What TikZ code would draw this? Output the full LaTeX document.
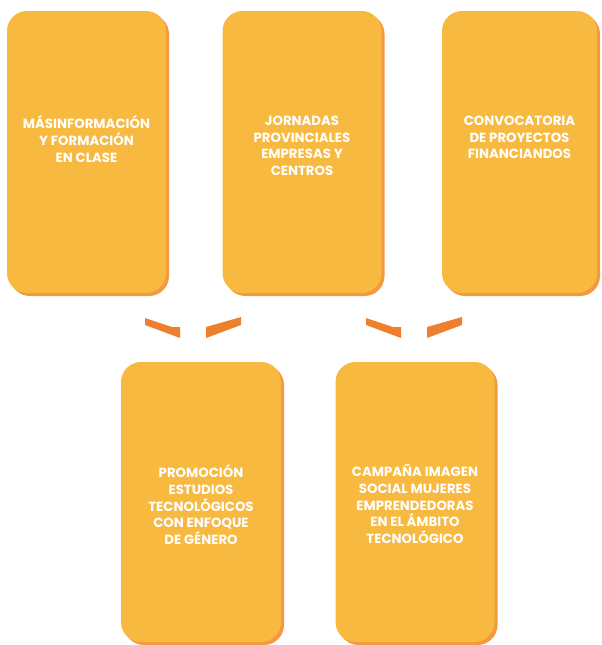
\documentclass[tikz,border=0pt]{standalone}
\usepackage{fontspec}
\setmainfont{Poppins}
\usetikzlibrary{shadows}
\definecolor{boxfill}{HTML}{F8B940}
\definecolor{boxshadow}{HTML}{F5983F}
\definecolor{barcol}{HTML}{EE7F2E}
\tikzset{
  card/.style={rectangle, rounded corners=20pt, fill=boxfill, draw=none,
    minimum width=159pt, minimum height=282pt, inner sep=0pt,
    drop shadow={shadow xshift=3pt, shadow yshift=-3pt, fill=boxshadow, opacity=1}},
  cardtext/.style={anchor=north, align=center, text=white, inner sep=0pt,
    font=\fontsize{13.3pt}{16.6pt}\selectfont\bfseries},
  bar/.style={fill=barcol, draw=none}
}
\begin{document}
\begin{tikzpicture}[x=1pt,y=-1pt]
\useasboundingbox (0,0) rectangle (602,645);
% top row
\node[card] (b1) at (86.5,152) {};
\node[card] (b2) at (302,152) {};
\node[card, minimum width=155pt] (b3) at (519.5,152) {};
% bottom row
\node[card, minimum width=160pt, minimum height=280pt] (b4) at (201,502) {};
\node[card, minimum height=280pt] (b5) at (415,502) {};
% texts
\node[cardtext] (t1) at ([yshift=-105pt]b1.north) {MÁSINFORMACIÓN\\Y FORMACIÓN\\EN CLASE};
\node[cardtext] (t2) at ([yshift=-105pt]b2.north) {JORNADAS\\PROVINCIALES\\EMPRESAS Y\\CENTROS};
\node[cardtext] (t3) at ([yshift=-105pt]b3.north) {CONVOCATORIA\\DE PROYECTOS\\FINANCIANDOS};
\node[cardtext] (t4) at ([yshift=-103pt]b4.north) {PROMOCIÓN\\ESTUDIOS\\TECNOLÓGICOS\\CON ENFOQUE\\DE GÉNERO};
\node[cardtext] (t5) at ([yshift=-103pt]b5.north) {CAMPAÑA IMAGEN\\SOCIAL MUJERES\\EMPRENDEDORAS\\EN EL ÁMBITO\\TECNOLÓGICO};
% connector bars (V marks)
\coordinate (v1) at (193,328);
\coordinate (v2) at (414,328);
\foreach \v in {v1,v2}{
  \fill[bar] ([shift={(-48,-10)}]\v) -- ([shift={(-21,-1)}]\v) -- ([shift={(-13,-1)}]\v)
     -- ([shift={(-13,10)}]\v) -- ([shift={(-48,-3)}]\v) -- cycle;
  \fill[bar] ([shift={(48,-11)}]\v) -- ([shift={(48,-3)}]\v) -- ([shift={(13,10)}]\v)
     -- ([shift={(13,-1)}]\v) -- cycle;
}
\end{tikzpicture}
\end{document}
